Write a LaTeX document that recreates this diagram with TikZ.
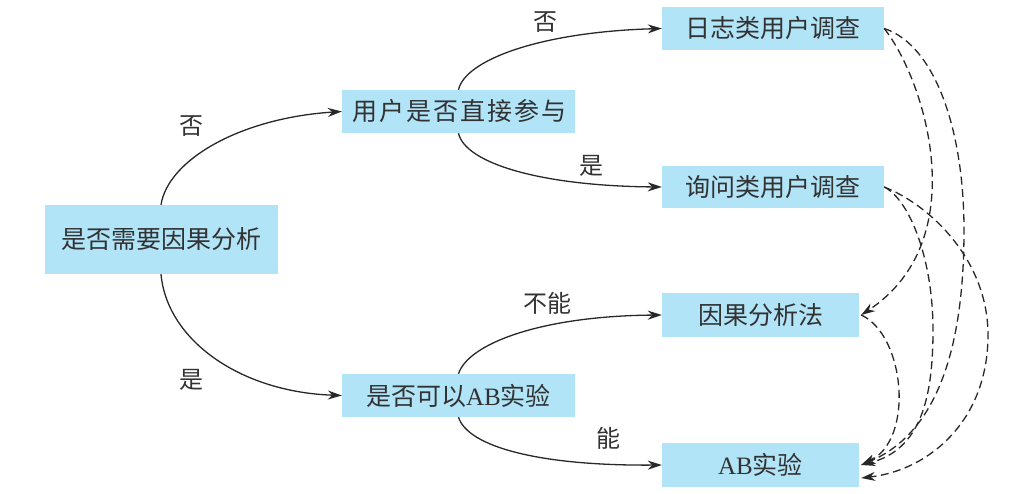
\documentclass[tikz,border=0pt]{standalone}
\usepackage{fontspec}
\setmainfont{Liberation Serif}
\newfontfamily\cjk{Noto Sans CJK SC}
\newfontfamily\cjkwide[LetterSpace=8]{Noto Sans CJK SC}
\usetikzlibrary{arrows.meta}
\definecolor{boxfill}{RGB}{178,228,248}
\definecolor{ink}{RGB}{50,50,50}
\definecolor{edgeink}{RGB}{40,40,40}
\tikzset{
  box/.style={fill=boxfill, draw=none, inner sep=0pt, text=ink,
    font=\cjk\fontsize{25}{28}\selectfont, anchor=center},
  lbl/.style={inner sep=0pt, text=ink, font=\cjk\fontsize{24}{28}\selectfont},
  solidarrow/.style={draw=edgeink, line width=1.3pt, -{Stealth[length=14pt,width=9pt]}},
  dasharrow/.style={draw=edgeink, line width=1.3pt, dash pattern=on 8pt off 4.5pt,
    -{Stealth[length=14pt,width=9pt]}}
}
\begin{document}
\begin{tikzpicture}[x=1pt,y=-1pt]
\useasboundingbox[fill=white] (0,0) rectangle (1010,493);

\node[box, minimum width=233pt, minimum height=69pt] (root) at (161,239.5) {是否需要因果分析};
\node[box, minimum width=233pt, minimum height=43pt, font=\cjkwide\fontsize{25}{28}\selectfont] (user) at (458.5,111.5) {\hspace{1.5pt}用户是否直接参与\hspace{-2pt}};
\node[box, minimum width=233pt, minimum height=43pt] (abq) at (458.5,395.5) {是否可以{\rmfamily AB}实验};
\node[box, minimum width=222pt, minimum height=43pt] (log) at (773,28.5) {日志类用户调查};
\node[box, minimum width=222pt, minimum height=42pt] (ask) at (773,187) {询问类用户调查};
\node[box, minimum width=197pt, minimum height=44pt] (causal) at (760.5,315) {因果分析法};
\node[box, minimum width=197pt, minimum height=44pt] (ab) at (760.5,465) {{\rmfamily AB}实验};

% solid decision edges
\draw[solidarrow] (root.north) .. controls (168,160) and (240,118) .. (user.west);
\draw[solidarrow] (root.south) .. controls (167,340) and (240,392) .. (abq.west);
\draw[solidarrow] (user.north) .. controls (465,60) and (540,32) .. (log.west);
\draw[solidarrow] (user.south) .. controls (465,163) and (540,186) .. (ask.west);
\draw[solidarrow] (abq.north) .. controls (468,344) and (540,316) .. (causal.west);
\draw[solidarrow] (abq.south) .. controls (468,447) and (540,466) .. (ab.west);

% labels
\node[lbl] (l1) at (191,126) {否};
\node[lbl] (l2) at (191,380) {是};
\node[lbl] (l3) at (545,22) {否};
\node[lbl] (l4) at (591,166) {是};
\node[lbl] (l5) at (547,303) {不能};
\node[lbl] (l6) at (608,438) {能};

% dashed edges
\coordinate (m1) at (964,230);
\coordinate (m2) at (933,330);
\coordinate (m3) at (988,335);
\draw[dasharrow] (log.east) .. controls (925,80) and (975,240) .. ([xshift=2pt]causal.east);
\draw[dasharrow] (log.east) .. controls (935,45) and (964,130) .. (m1)
   .. controls (964,330) and (945,430) .. ([xshift=2pt]ab.east);
\draw[dasharrow] (ask.east) .. controls (910,200) and (933,260) .. (m2)
   .. controls (933,400) and (920,450) .. ([xshift=2pt]ab.east);
\draw[dasharrow] (ask.east) .. controls (930,205) and (988,260) .. (m3)
   .. controls (988,420) and (930,470) .. ([xshift=2pt,yshift=-13pt]ab.east);
\draw[dasharrow] ([xshift=2pt]causal.east) .. controls (905,335) and (915,440) .. ([xshift=2pt]ab.east);
\end{tikzpicture}
\end{document}
